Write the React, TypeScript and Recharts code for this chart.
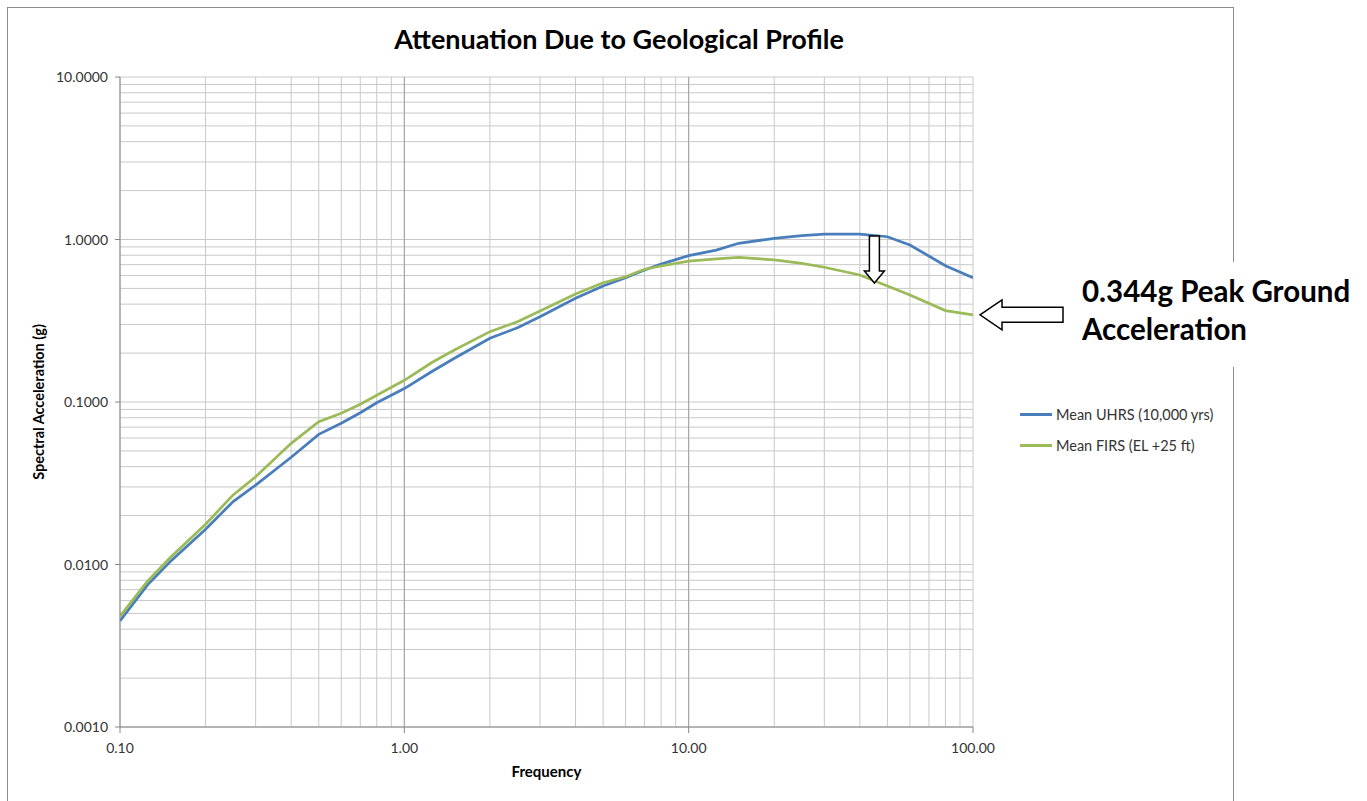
import { LineChart, Line, XAxis, YAxis, CartesianGrid, ReferenceLine, ReferenceDot, Legend, Label } from 'recharts'

// frequency (Hz) and spectral acceleration (g) for both spectra
const freq = [0.1, 0.125, 0.15, 0.2, 0.25, 0.3, 0.4, 0.5, 0.6, 0.7, 0.8, 1, 1.25, 1.5, 2, 2.5, 3, 4, 5, 6, 7, 8, 10, 12.5, 15, 20, 25, 30, 40, 50, 60, 80, 100]
const uhrs = [0.0045, 0.0075, 0.0104, 0.0165, 0.0244, 0.0308, 0.0457, 0.0632, 0.074, 0.0859, 0.099, 0.121, 0.154, 0.186, 0.247, 0.286, 0.335, 0.435, 0.518, 0.582, 0.649, 0.706, 0.795, 0.861, 0.948, 1.017, 1.055, 1.08, 1.08, 1.04, 0.925, 0.69, 0.582]
const firs = [0.0048, 0.0079, 0.011, 0.0177, 0.0268, 0.0347, 0.0557, 0.0757, 0.0852, 0.0969, 0.11, 0.136, 0.175, 0.209, 0.271, 0.312, 0.363, 0.462, 0.542, 0.59, 0.656, 0.687, 0.735, 0.759, 0.776, 0.748, 0.714, 0.675, 0.605, 0.518, 0.455, 0.365, 0.344]

const xTicks = [0.1, 0.2, 0.3, 0.4, 0.5, 0.6, 0.7, 0.8, 0.9, 1, 2, 3, 4, 5, 6, 7, 8, 9, 10, 20, 30, 40, 50, 60, 70, 80, 90, 100]
const yTicks = [0.001, 0.002, 0.003, 0.004, 0.005, 0.006, 0.007, 0.008, 0.009, 0.01, 0.02, 0.03, 0.04, 0.05, 0.06, 0.07, 0.08, 0.09, 0.1, 0.2, 0.3, 0.4, 0.5, 0.6, 0.7, 0.8, 0.9, 1, 2, 3, 4, 5, 6, 7, 8, 9, 10]
const xDecades = [1, 10]

const pga = 0.344
const dropFreq = 45
const dropTop = 1.05

const seriesNames = { uhrs: 'Mean UHRS (10,000 yrs)', firs: 'Mean FIRS (EL +25 ft)' }
const BLUE = '#4a7ebb'
const GREEN = '#9bbb59'
const FONT = 'Lato, "Open Sans", sans-serif'

const data = freq.map((f, i) => ({ f, uhrs: uhrs[i], firs: firs[i] }))

const isDecade = (v: number) => Math.abs(Math.log10(v) - Math.round(Math.log10(v))) < 1e-6

function XTick({ x, y, payload }: any) {
  if (!isDecade(payload.value)) return null
  return (
    <g>
      <line x1={x} x2={x} y1={y} y2={y + 6} stroke="#868686" />
      <text x={x} y={y + 26} textAnchor="middle" fontSize={14} fontFamily={FONT} fill="#333">
        {payload.value.toFixed(2)}
      </text>
    </g>
  )
}

function YTick({ x, y, payload }: any) {
  if (!isDecade(payload.value)) return null
  return (
    <g>
      <line x1={x - 5} x2={x} y1={y} y2={y} stroke="#868686" />
      <text x={x - 12} y={y + 5} textAnchor="end" fontSize={14} fontFamily={FONT} fill="#333">
        {payload.value.toFixed(4)}
      </text>
    </g>
  )
}

function DownArrow({ cx, cy }: any) {
  const p = `M${cx - 5},${cy} L${cx + 5},${cy} L${cx + 5},${cy + 35} L${cx + 10},${cy + 35} L${cx},${cy + 47} L${cx - 10},${cy + 35} L${cx - 5},${cy + 35} Z`
  return <path d={p} fill="#fff" stroke="#000" strokeWidth={1.5} />
}

function LeftArrow({ cx, cy }: any) {
  const t = cx + 7
  const p = `M${t},${cy} L${t + 22},${cy - 15} L${t + 22},${cy - 7.5} L${t + 83},${cy - 7.5} L${t + 83},${cy + 7.5} L${t + 22},${cy + 7.5} L${t + 22},${cy + 15} Z`
  return <path d={p} fill="#fff" stroke="#000" strokeWidth={1.5} />
}

function LegendBox() {
  const rows = [
    { name: seriesNames.uhrs, color: BLUE },
    { name: seriesNames.firs, color: GREEN },
  ]
  return (
    <div style={{ fontFamily: FONT, fontSize: 14.5, color: '#333' }}>
      {rows.map((r) => (
        <div key={r.name} style={{ display: 'flex', alignItems: 'center', height: 31 }}>
          <span style={{ display: 'inline-block', width: 32, height: 3, background: r.color, marginRight: 4 }} />
          {r.name}
        </div>
      ))}
    </div>
  )
}

export default function App() {
  return (
    <div style={{ position: 'relative', width: 1367, height: 801, overflow: 'hidden', background: '#fff' }}>
      <style>{'body{margin:0}'}</style>
      <svg width={1367} height={801} style={{ position: 'absolute', left: 0, top: 0 }}>
        <rect x={7.5} y={7.5} width={1226} height={820} fill="#fff" stroke="#8c8c8c" />
        <text x={619} y={49} textAnchor="middle" fontSize={27} fontWeight="bold" fontFamily={FONT} fill="#000">
          Attenuation Due to Geological Profile
        </text>
      </svg>
      <div style={{ position: 'absolute', left: 0, top: 0 }}>
        <LineChart width={1367} height={801} data={data} margin={{ top: 77, right: 394, bottom: 24, left: 40 }}>
          <CartesianGrid stroke="#c8c8c8" strokeWidth={1} />
          {xDecades.map((d) => (
            <ReferenceLine key={d} x={d} stroke="#a0a0a0" />
          ))}
          <XAxis
            dataKey="f"
            type="number"
            scale="log"
            domain={[0.1, 100]}
            ticks={xTicks}
            interval={0}
            allowDataOverflow
            height={50}
            tickSize={0}
            tickMargin={0}
            tick={<XTick />}
            stroke="#868686"
          >
            <Label
              content={({ viewBox }: any) => (
                <text x={viewBox.x + viewBox.width / 2} y={777} textAnchor="middle" fontSize={15} fontWeight="bold" fontFamily={FONT} fill="#000">
                  Frequency
                </text>
              )}
            />
          </XAxis>
          <YAxis
            type="number"
            scale="log"
            domain={[0.001, 10]}
            ticks={yTicks}
            interval={0}
            allowDataOverflow
            width={80}
            tickSize={0}
            tickMargin={0}
            tick={<YTick />}
            stroke="#868686"
          >
            <Label
              content={({ viewBox }: any) => {
                const cy = viewBox.y + viewBox.height / 2
                return (
                  <text x={44} y={cy} transform={`rotate(-90, 44, ${cy})`} textAnchor="middle" fontSize={14.5} fontWeight="bold" fontFamily={FONT} fill="#000">
                    Spectral Acceleration (g)
                  </text>
                )
              }}
            />
          </YAxis>
          <Line dataKey="uhrs" name={seriesNames.uhrs} stroke={BLUE} strokeWidth={2.75} dot={false} isAnimationActive={false} />
          <Line dataKey="firs" name={seriesNames.firs} stroke={GREEN} strokeWidth={2.75} dot={false} isAnimationActive={false} />
          <ReferenceDot x={dropFreq} y={dropTop} ifOverflow="visible" shape={<DownArrow />} />
          <ReferenceDot x={100} y={pga} ifOverflow="visible" shape={<LeftArrow />} />
          <Legend
            layout="vertical"
            align="center"
            verticalAlign="middle"
            content={<LegendBox />}
            wrapperStyle={{ left: 1020, top: 399, width: 220 }}
          />
        </LineChart>
      </div>
      <svg width={1367} height={801} style={{ position: 'absolute', left: 0, top: 0, pointerEvents: 'none' }}>
        <rect x={1070} y={262} width={297} height={105} fill="#fff" />
        <text fontSize={29.5} fontWeight="bold" fontFamily={FONT} fill="#000">
          <tspan x={1082} y={302}>0.344g Peak Ground</tspan>
          <tspan x={1082} y={340}>Acceleration</tspan>
        </text>
      </svg>
    </div>
  )
}
